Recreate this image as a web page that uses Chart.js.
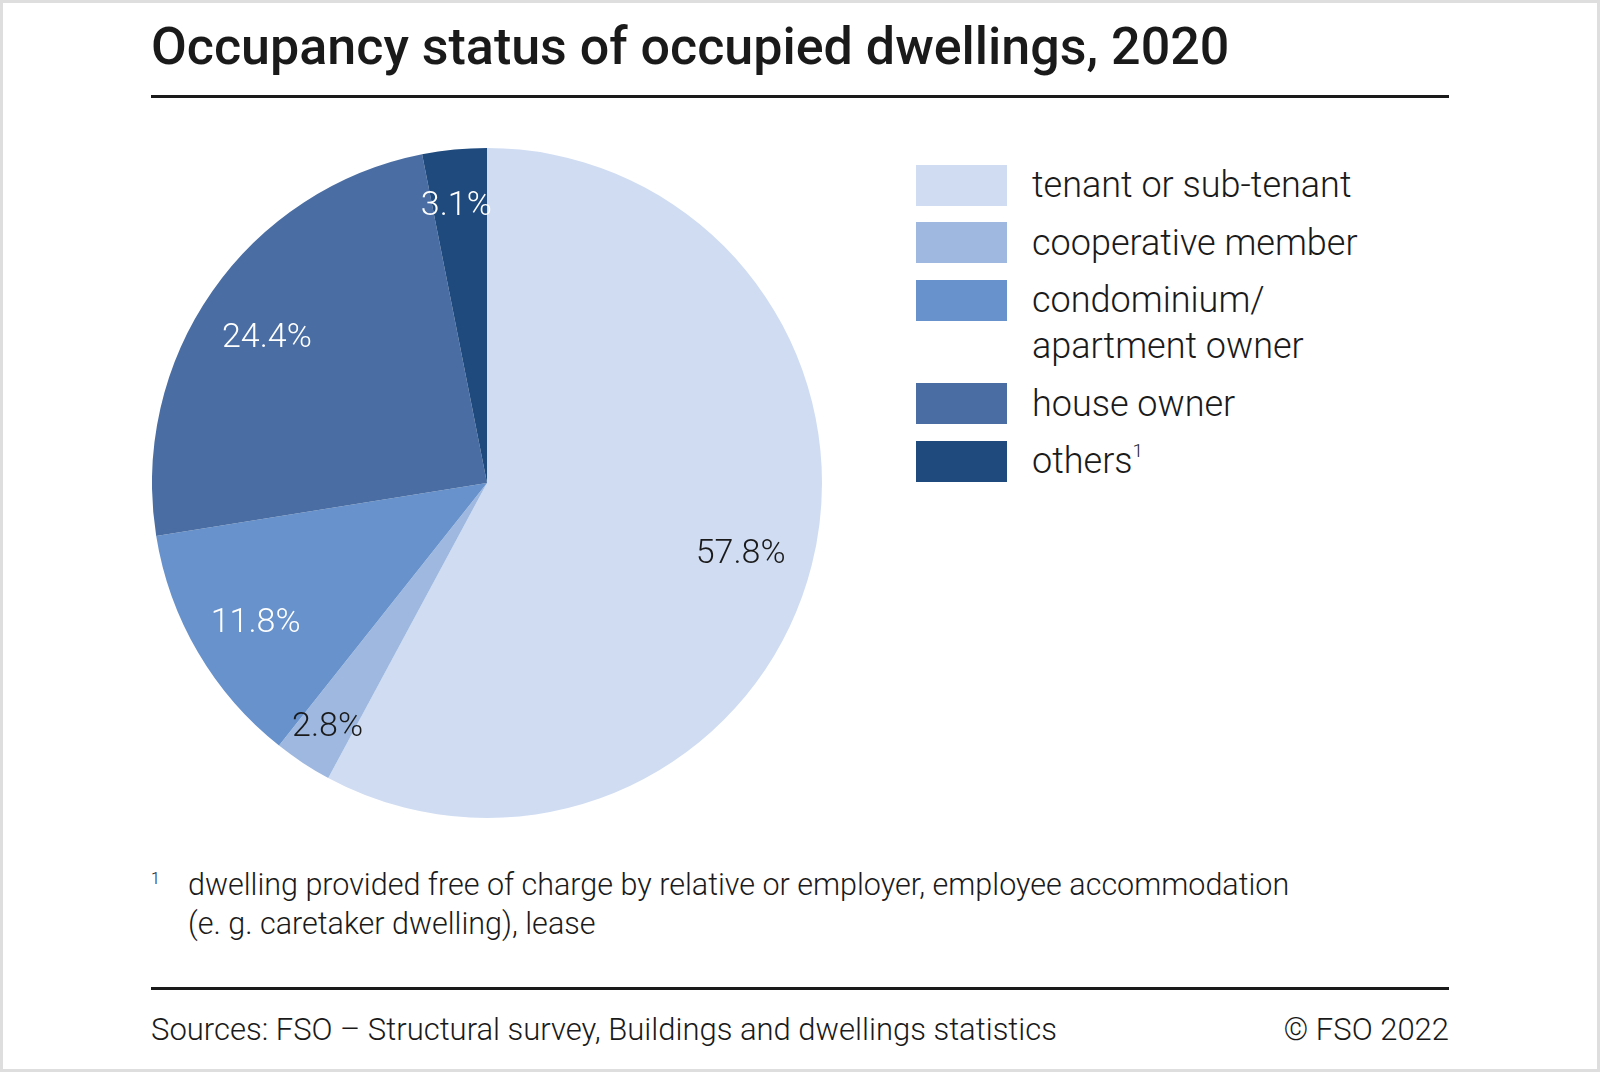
<!DOCTYPE html>
<html>
<head>
<meta charset="utf-8">
<script src="https://cdn.jsdelivr.net/npm/chart.js@4"></script>
<style>
  html, body { margin: 0; padding: 0; background: #fff; }
  body { width: 1600px; height: 1072px; position: relative; overflow: hidden; font-family: Roboto, 'Noto Sans', sans-serif; color: #1a1a1a; }
  .frame { position: absolute; left: 0; top: 0; width: 1594px; height: 1066px; border: 3px solid #dedede; }
  .title { position: absolute; left: 151px; top: 16px; font-size: 52px; font-weight: 500; line-height: 62px; white-space: nowrap; }
  .rule { position: absolute; left: 151px; width: 1298px; height: 3px; background: #1a1a1a; }
  .pie { position: absolute; left: 152px; top: 148px; width: 670px; height: 670px; }
  .legend { position: absolute; left: 916px; top: 162px; margin: 0; padding: 0; list-style: none; }
  .legend li { display: flex; align-items: flex-start; margin-bottom: 11.5px; }
  .legend .box { width: 91px; height: 41px; margin-top: 2.5px; flex: none; }
  .legend .txt { margin-left: 25px; font-size: 36px; font-weight: 300; line-height: 46px; max-width: 380px; }
  .legend sup { font-size: 19px; vertical-align: 16px; line-height: 0; }
  .note { position: absolute; left: 151px; top: 865px; font-size: 30.5px; font-weight: 300; line-height: 39px; }
  .note .mark { position: absolute; left: 0; top: -6px; font-size: 16px; }
  .note .body { margin-left: 37px; width: 1130px; }
  .foot { position: absolute; top: 1011px; font-size: 31px; font-weight: 300; line-height: 38px; white-space: nowrap; }
</style>
</head>
<body>
<div class="frame"></div>
<div class="title">Occupancy status of occupied dwellings, 2020</div>
<div class="rule" style="top:95px"></div>
<div class="pie"><canvas id="pie-chart"></canvas></div>
<ul class="legend" id="legend"></ul>
<div class="note"><span class="mark">1</span><div class="body">dwelling provided free of charge by relative or employer, employee accommodation (e. g. caretaker dwelling), lease</div></div>
<div class="rule" style="top:987px"></div>
<div class="foot" style="left:151px">Sources: FSO – Structural survey, Buildings and dwellings statistics</div>
<div class="foot" style="right:151px">© FSO 2022</div>
<script>
const categories = [
  'tenant or sub-tenant',
  'cooperative member',
  'condominium/ apartment owner',
  'house owner',
  'others',
];
const footnoteMarks = ['', '', '', '', '1'];
const shares = [57.8, 2.8, 11.8, 24.4, 3.1];

const sliceColors = ['#cfdcf2', '#9eb8e0', '#6792cc', '#4a6ea3', '#1e4a7e'];
const labelColors = ['#1a1a1a', '#1a1a1a', '#ffffff', '#ffffff', '#ffffff'];

function buildLegend() {
  const ul = document.getElementById('legend');
  categories.forEach((name, i) => {
    const li = document.createElement('li');
    const box = document.createElement('span');
    box.className = 'box';
    box.style.background = sliceColors[i];
    const txt = document.createElement('span');
    txt.className = 'txt';
    txt.textContent = name;
    if (footnoteMarks[i]) {
      const sup = document.createElement('sup');
      sup.textContent = footnoteMarks[i];
      txt.appendChild(sup);
    }
    li.appendChild(box);
    li.appendChild(txt);
    ul.appendChild(li);
  });
}

const sliceLabels = {
  id: 'sliceLabels',
  afterDatasetsDraw(chart) {
    const { ctx } = chart;
    const meta = chart.getDatasetMeta(0);
    ctx.save();
    ctx.font = '300 34px Roboto';
    ctx.textAlign = 'center';
    ctx.textBaseline = 'middle';
    meta.data.forEach((arc, i) => {
      const { x, y, startAngle, endAngle, outerRadius } = arc.getProps(
        ['x', 'y', 'startAngle', 'endAngle', 'outerRadius'],
        true
      );
      const mid = (startAngle + endAngle) / 2;
      const dist = outerRadius * (shares[i] < 5 ? 0.85 : 0.79);
      ctx.fillStyle = labelColors[i];
      ctx.fillText(shares[i].toFixed(1) + '%', x + Math.cos(mid) * dist - 3, y + Math.sin(mid) * dist + 7);
    });
    ctx.restore();
  },
};

function pieChart() {
  const ctx = document.getElementById('pie-chart');
  new Chart(ctx, {
    type: 'pie',
    data: {
      labels: categories,
      datasets: [
        {
          data: shares,
          backgroundColor: sliceColors,
          borderWidth: 0,
        },
      ],
    },
    options: {
      responsive: true,
      maintainAspectRatio: false,
      animation: false,
      layout: { padding: 0 },
      plugins: {
        legend: { display: false },
        tooltip: { enabled: false },
      },
    },
    plugins: [sliceLabels],
  });
}

buildLegend();
pieChart();
</script>
</body>
</html>
